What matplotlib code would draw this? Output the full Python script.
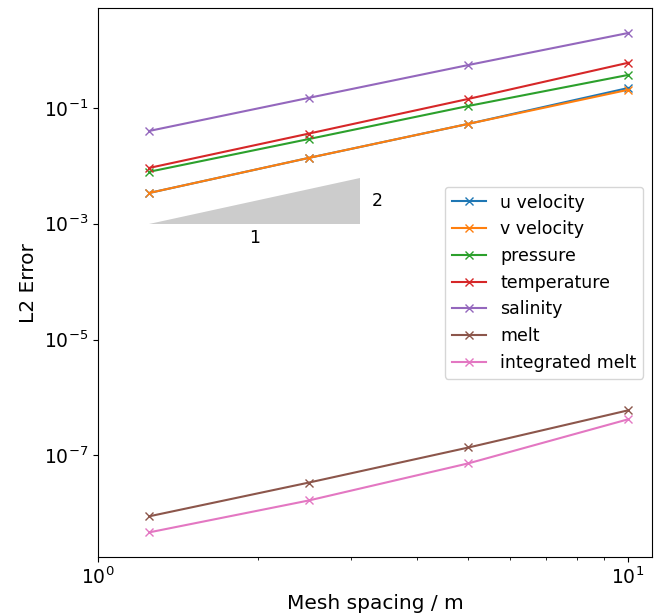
import matplotlib
matplotlib.use('Agg')
import matplotlib.pyplot as plt
from matplotlib.ticker import NullLocator
import numpy as np

# mesh spacing (m) and L2 errors
dx = [1.25, 2.5, 5.0, 10.0]
u_vel = [3.4e-3, 1.37e-2, 5.3e-2, 2.2e-1]
v_vel = [3.4e-3, 1.37e-2, 5.3e-2, 2.05e-1]
pressure = [7.9e-3, 2.9e-2, 1.08e-1, 3.7e-1]
temperature = [9.2e-3, 3.6e-2, 1.43e-1, 6.0e-1]
salinity = [4.0e-2, 1.49e-1, 5.5e-1, 1.96]
melt = [8.9e-9, 3.4e-8, 1.37e-7, 6.0e-7]
int_melt = [4.7e-9, 1.67e-8, 7.3e-8, 4.2e-7]

labels = ['u velocity', 'v velocity', 'pressure', 'temperature',
          'salinity', 'melt', 'integrated melt']
series = [u_vel, v_vel, pressure, temperature, salinity, melt, int_melt]

yticks = [1e-7, 1e-5, 1e-3, 1e-1]

# slope triangle (order 2)
tri_x = [1.25, 3.125]
tri_y0 = 1e-3

plt.rcParams['font.size'] = 12.5

fig = plt.figure(figsize=(6.62, 6.15), dpi=100)
ax = fig.add_axes([0.148, 0.094, 0.837, 0.893])

for lab, err in zip(labels, series):
    ax.loglog(dx, err, marker='x', label=lab)

x0, x1 = tri_x
y1 = tri_y0 * (x1 / x0) ** 2
ax.fill([x0, x1, x1], [tri_y0, tri_y0, y1], color='0.8', lw=0)
ax.text(np.sqrt(x0 * x1), tri_y0 * 0.8, '1', ha='center', va='top')
ax.text(x1 * 1.05, np.sqrt(tri_y0 * y1), '2', ha='left', va='center')

ax.set_xlim(1, 11.1)
ax.set_ylim(1.75e-9, 5.3)
ax.set_yticks(yticks)
ax.yaxis.set_minor_locator(NullLocator())
ax.tick_params(labelsize=13.5)
ax.set_xlabel('Mesh spacing / m', fontsize=14.5, labelpad=4)
ax.set_ylabel('L2 Error', fontsize=14.5, labelpad=4)
ax.legend(loc='center right')

fig.savefig('out.png', dpi=100)
